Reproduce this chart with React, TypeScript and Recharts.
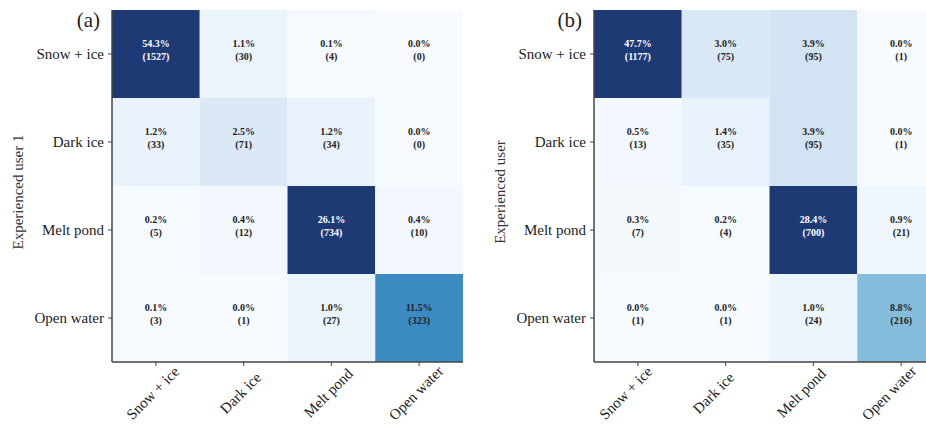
import { Bar, BarChart, Cell, LabelList, XAxis, YAxis } from "recharts"

const CLASSES = ["Snow + ice", "Dark ice", "Melt pond", "Open water"];

// panel (a): experienced user 1 vs prediction
const PCT_A = [
    [54.3, 1.1, 0.1, 0.0],
    [1.2, 2.5, 1.2, 0.0],
    [0.2, 0.4, 26.1, 0.4],
    [0.1, 0.0, 1.0, 11.5],
];
const COUNT_A = [
    [1527, 30, 4, 0],
    [33, 71, 34, 0],
    [5, 12, 734, 10],
    [3, 1, 27, 323],
];

// panel (b): experienced user vs prediction
const PCT_B = [
    [47.7, 3.0, 3.9, 0.0],
    [0.5, 1.4, 3.9, 0.0],
    [0.3, 0.2, 28.4, 0.9],
    [0.0, 0.0, 1.0, 8.8],
];
const COUNT_B = [
    [1177, 75, 95, 1],
    [13, 35, 95, 1],
    [7, 4, 700, 21],
    [1, 1, 24, 216],
];

const X_TICKS = [0.5, 1.5, 2.5, 3.5];
const VMAX = 500;

const BLUES = ['#f7fbff', '#deebf7', '#c6dbef', '#9ecae1', '#6baed6', '#4292c6', '#2171b5', '#0f4f97', '#1e3a75'];
const FONT = '"Liberation Serif", "Times New Roman", serif';

const hex = (c: string) => [1, 3, 5].map(i => parseInt(c.slice(i, i + 2), 16));

function blues(v: number) {
    const t = Math.max(0, Math.min(1, v / VMAX)) * (BLUES.length - 1);
    const i = Math.min(Math.floor(t), BLUES.length - 2);
    const f = t - i;
    const a = hex(BLUES[i]), b = hex(BLUES[i + 1]);
    const rgb = a.map((x, k) => Math.round(x + (b[k] - x) * f));
    return `rgb(${rgb.join(",")})`;
}

const makeXTick = (shift: number) => ({ x, y, payload }: any) => {
    const cx = x + shift;
    const cy = y + 25;
    return (
        <text x={cx} y={cy} textAnchor="middle" dominantBaseline="central" fontSize={15} fontFamily={FONT} fill="#222"
            transform={`rotate(-45, ${cx}, ${cy})`}>
            {CLASSES[Math.floor(payload.value)]}
        </text>
    );
};

function Matrix({ tag, yTitle, pct, count, left, shift }: { tag: string; yTitle: string; pct: number[][]; count: number[][]; left: number; shift: number }) {
    const data = CLASSES.map((row, r) => ({ row, c0: 1, c1: 1, c2: 1, c3: 1, r }));
    const XTick = makeXTick(shift);

    const cellLabel = (col: number) => (props: any) => {
        const { x, y, width, height, index } = props;
        const n = count[index][col];
        const fill = n > 400 ? "#fff" : "#222";
        const cx = x + width / 2;
        const cy = y + height / 2;
        return (
            <g fontFamily={FONT} fontSize={10} fontWeight="bold" fill={fill} textAnchor="middle">
                <text x={cx} y={cy - 7}>{pct[index][col].toFixed(1)}%</text>
                <text x={cx} y={cy + 6}>({n})</text>
            </g>
        );
    };

    return (
        <div style={{ position: "absolute", left, top: 0 }}>
            <BarChart width={470} height={432} data={data} layout="vertical" barCategoryGap={0}
                margin={{ top: 10, right: 7, bottom: 0, left: 0 }}>
                <XAxis type="number" domain={[0, 4]} ticks={X_TICKS} height={70} tick={<XTick />}
                    tickSize={4} axisLine={{ stroke: "#444", strokeWidth: 1.5 }} tickLine={{ stroke: "#444" }} />
                <XAxis xAxisId="top" orientation="top" type="number" domain={[0, 4]} height={0} tick={false}
                    tickLine={false} axisLine={{ stroke: "#444", strokeWidth: 1.5 }} />
                <YAxis type="category" dataKey="row" width={112} tickSize={4} tickMargin={4}
                    tick={{ fontSize: 15, fontFamily: FONT, fill: "#222" }}
                    axisLine={{ stroke: "#444", strokeWidth: 1.5 }} tickLine={{ stroke: "#444" }}
                    label={{
                        content: ({ viewBox }: any) => (
                            <text x={viewBox.x + 18} y={viewBox.y + viewBox.height / 2 + 6} textAnchor="middle"
                                dominantBaseline="central" fontSize={15} fontFamily={FONT} fill="#333"
                                transform={`rotate(-90, ${viewBox.x + 18}, ${viewBox.y + viewBox.height / 2 + 6})`}>
                                {yTitle}
                            </text>
                        ),
                    }} />
                <YAxis yAxisId="right" orientation="right" type="category" dataKey="row" width={0} tick={false}
                    tickLine={false} axisLine={{ stroke: "#444", strokeWidth: 1.5 }} />
                {[0, 1, 2, 3].map(col => (
                    <Bar key={col} dataKey={`c${col}`} stackId="m" isAnimationActive={false}>
                        {data.map((d, r) => (
                            <Cell key={r} fill={blues(count[r][col])} />
                        ))}
                        <LabelList dataKey={`c${col}`} content={cellLabel(col)} />
                    </Bar>
                ))}
                <text x={100} y={27} textAnchor="end" fontSize={21} fontFamily={FONT} fill="#222">{tag}</text>
            </BarChart>
        </div>
    );
}

export default function App() {
    return (
        <div style={{ position: "absolute", left: 0, top: 0, width: 926, height: 432, overflow: "hidden", background: "#fff" }}>
            <Matrix tag="(a)" yTitle="Experienced user 1" pct={PCT_A} count={COUNT_A} left={0} shift={-3} />
            <Matrix tag="(b)" yTitle="Experienced user" pct={PCT_B} count={COUNT_B} left={482} shift={-12} />
        </div>
    );
}
